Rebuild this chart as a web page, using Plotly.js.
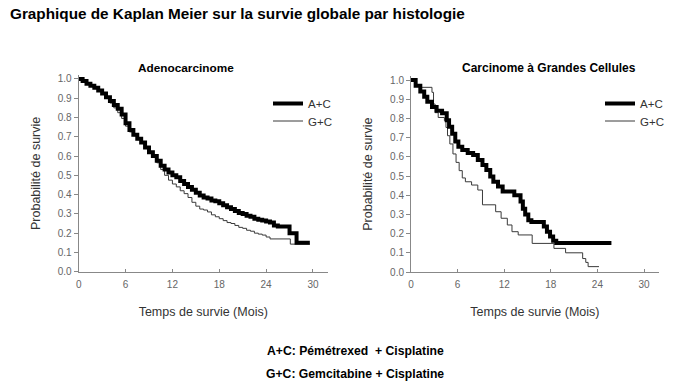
<!DOCTYPE html>
<html>
<head>
<meta charset="utf-8">
<script src="https://cdn.plot.ly/plotly-3.0.1.min.js"></script>
<style>html,body{margin:0;padding:0;background:#fff;}#chart{width:676px;height:383px;}</style>
</head>
<body>
<div id="chart"></div>
<script>
// Adenocarcinome
const adenoTimeAC = [0,0.5,1,1.5,2,2.5,3,3.5,4,4.5,5,5.5,6,6.5,7,7.5,8,8.5,9,9.5,10,10.5,11,11.5,12,12.5,13,13.5,14,14.5,15,15.5,16,16.5,17,17.5,18,18.5,19,19.5,20,20.5,21,21.5,22,22.5,23,23.5,24,24.5,25,25.5,27,27.9,29.6];
const adenoSurvAC = [1.0,0.99,0.975,0.965,0.955,0.94,0.925,0.905,0.885,0.865,0.845,0.815,0.77,0.735,0.71,0.69,0.67,0.645,0.62,0.60,0.575,0.55,0.53,0.515,0.50,0.49,0.47,0.455,0.44,0.425,0.41,0.395,0.385,0.38,0.37,0.365,0.355,0.345,0.335,0.325,0.315,0.305,0.30,0.29,0.285,0.275,0.27,0.265,0.26,0.255,0.24,0.235,0.20,0.15,0.15];
const adenoTimeGC = [0,0.5,1,1.5,2,2.5,3,3.5,4,4.5,5,5.5,6,6.5,7,7.5,8,8.5,9,9.5,10,10.5,11,11.5,12,12.5,13,13.5,14,14.5,15,15.5,16,16.5,17,17.5,18,18.5,19,19.5,20,20.5,21,21.5,22,22.5,23,23.5,24,24.5,27.1,29.6];
const adenoSurvGC = [1.0,0.99,0.975,0.962,0.95,0.935,0.92,0.90,0.875,0.85,0.825,0.795,0.755,0.725,0.705,0.685,0.665,0.64,0.615,0.595,0.565,0.53,0.50,0.475,0.455,0.44,0.42,0.405,0.385,0.36,0.34,0.325,0.32,0.31,0.295,0.285,0.275,0.265,0.255,0.25,0.24,0.23,0.225,0.215,0.21,0.20,0.195,0.19,0.18,0.17,0.143,0.143];

// Carcinome à Grandes Cellules
const largeTimeAC = [0,0.6,1.2,1.7,2.1,2.7,3.3,4.0,4.6,4.9,5.3,5.7,6.1,6.6,7.3,8.0,8.6,9.2,9.7,10.2,10.6,11.2,11.8,13.3,14.1,14.4,14.7,15.1,15.5,17.1,17.5,17.9,18.3,18.7,25.8];
const largeSurvAC = [1.0,0.97,0.94,0.913,0.887,0.86,0.84,0.827,0.79,0.757,0.72,0.68,0.653,0.636,0.62,0.61,0.584,0.558,0.532,0.497,0.47,0.445,0.42,0.40,0.367,0.33,0.30,0.27,0.26,0.237,0.21,0.185,0.163,0.151,0.151];
const largeTimeGC = [0,0.5,1.2,2.7,2.9,3.1,3.5,4.3,4.5,4.7,5.0,5.4,5.8,6.2,6.6,7.0,7.8,8.6,9.2,10.9,11.6,12.4,13.0,13.8,15.6,18.4,19.9,22.1,22.5,22.8,24.2];
const largeSurvGC = [1.0,0.975,0.962,0.936,0.875,0.83,0.805,0.788,0.753,0.71,0.667,0.615,0.571,0.528,0.49,0.47,0.453,0.427,0.35,0.314,0.28,0.245,0.21,0.193,0.149,0.123,0.10,0.07,0.05,0.028,0.028];

const xTicks = [0,6,12,18,24,30];
const yTicks = [0,0.1,0.2,0.3,0.4,0.5,0.6,0.7,0.8,0.9,1.0];
const seriesNames = ['A+C','G+C'];
const panelTitles = ['Adenocarcinome','Carcinome à Grandes Cellules'];
const mainTitle = 'Graphique de Kaplan Meier sur la survie globale par histologie';
const footnotes = ['A+C: Pémétrexed  + Cisplatine','G+C: Gemcitabine + Cisplatine'];
const xTitle = 'Temps de survie (Mois)';
const yTitle = 'Probabilité de survie';

const FONT = 'Liberation Sans, Arial, sans-serif';
const W = 676, H = 383;

function thin(x, y, xa, ya, lg) {
  return {x: x, y: y, xaxis: xa, yaxis: ya, type: 'scatter', mode: 'lines', name: seriesNames[1],
    line: {shape: 'hv', color: '#3a3a3a', width: 1}, legend: lg, hoverinfo: 'skip'};
}
function thick(x, y, xa, ya, lg) {
  return {x: x, y: y, xaxis: xa, yaxis: ya, type: 'scatter', mode: 'lines', name: seriesNames[0],
    line: {shape: 'hv', color: '#000000', width: 4}, legend: lg, hoverinfo: 'skip'};
}

const data = [
  thin(adenoTimeGC, adenoSurvGC, 'x', 'y', 'legend2'),
  thick(adenoTimeAC, adenoSurvAC, 'x', 'y', 'legend'),
  thin(largeTimeGC, largeSurvGC, 'x2', 'y2', 'legend4'),
  thick(largeTimeAC, largeSurvAC, 'x2', 'y2', 'legend3')
];

function xax(domain, anchor) {
  return {domain: domain, anchor: anchor, range: [0, 31.9], tickvals: xTicks, ticks: 'inside', ticklen: 3,
    tickcolor: '#888', showline: true, linecolor: '#888', linewidth: 1, showgrid: false, zeroline: false,
    ticklabelstandoff: 3,
    tickfont: {family: FONT, size: 10, color: '#666'},
    title: {text: xTitle, font: {family: FONT, size: 12.5, color: '#333'}, standoff: 18}};
}
function yax(domain, anchor) {
  return {domain: domain, anchor: anchor, range: [0, 1.02], tickvals: yTicks, tickformat: '.1f', ticks: 'outside', ticklen: 4,
    tickcolor: '#888', showline: true, linecolor: '#888', linewidth: 1, showgrid: false, zeroline: false,
    tickfont: {family: FONT, size: 10, color: '#666'},
    title: {text: yTitle, font: {family: FONT, size: 12.5, color: '#333'}, standoff: 14}};
}

function ann(text, px, py, size, weight, anchor) {
  return {text: text, xref: 'paper', yref: 'paper', x: px / W, y: 1 - py / H, xanchor: anchor || 'center', yanchor: 'middle',
    showarrow: false, font: {family: FONT, size: size, color: '#000', weight: weight}};
}
function leg(px, py) {
  return {x: px / W, y: 1 - py / H, xanchor: 'left', yanchor: 'middle', bgcolor: 'rgba(0,0,0,0)',
    font: {family: FONT, size: 11.5, color: '#333'}};
}

const layout = {
  width: W, height: H, margin: {l: 0, r: 0, t: 0, b: 0},
  paper_bgcolor: '#fff', plot_bgcolor: '#fff',
  xaxis: xax([78.7 / W, 327.8 / W], 'y'),
  yaxis: yax([1 - 271.7 / H, 1 - 75.1 / H], 'x'),
  xaxis2: xax([411 / W, 658.8 / W], 'y2'),
  yaxis2: yax([1 - 272 / H, 1 - 76.2 / H], 'x2'),
  legend: leg(268, 103.5),
  legend2: leg(268, 121),
  legend3: leg(600, 103.5),
  legend4: leg(600, 121),
  showlegend: true,
  annotations: [
    ann(mainTitle, 8, 14, 15.3, 'bold', 'left'),
    ann(panelTitles[0], 186, 68, 11.8, 'bold'),
    ann(panelTitles[1], 549, 68, 12, 'bold'),
    ann(footnotes[0], 355, 351, 12.2, 'bold'),
    ann(footnotes[1], 355, 374, 12.2, 'bold')
  ]
};

Plotly.newPlot('chart', data, layout, {staticPlot: true, displayModeBar: false});
</script>
</body>
</html>
